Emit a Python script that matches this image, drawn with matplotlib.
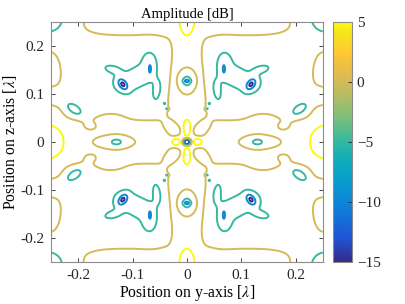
import numpy as np
import matplotlib.pyplot as plt
from matplotlib.colors import LinearSegmentedColormap, Normalize
from matplotlib.cm import ScalarMappable

plt.rcParams['font.family'] = ['Liberation Serif', 'DejaVu Serif']
plt.rcParams['mathtext.fontset'] = 'stix'

# contour levels / colour range [dB]
levels = [-15, -10, -5, 0, 5]
clim = (-15, 5)
tick_vals = [-0.2, -0.1, 0, 0.1, 0.2]

# background level and the four diagonal low regions (one quadrant, mirrored)
base_db = 3.0
box_y = [0.035, 0.230]
box_z = [0.045, 0.222]
box_depth = -6.0
box_soft = 0.008

# local features (first quadrant, mirrored to all four)
# centre null, yellow lobes, neck, column loop, row loop, star, dots,
# side ellipse, edge lobes, corner, boundary tweaks
feat_y = [0.000, 0.000, 0.020, 0.022, 0.032,
          0.000, 0.000, 0.000, 0.135, 0.129,
          0.068, 0.054, 0.115, 0.138, 0.092, 0.118, 0.068,
          0.041, 0.037, 0.208, 0.262, 0.000, 0.262,
          0.140, 0.178, 0.250, 0.032]
feat_z = [0.000, 0.028, 0.000, 0.022, 0.035,
          0.127, 0.127, 0.127, 0.000, 0.000,
          0.158, 0.105, 0.122, 0.152, 0.138, 0.120, 0.152,
          0.080, 0.069, 0.068, 0.000, 0.262, 0.262,
          0.050, 0.032, 0.095, 0.190]
feat_amp = [-30.0, 5.0, 5.0, -6.0, -4.0,
            -5.2, -5.0, -5.0, -5.0, -4.0,
            -3.3, -3.0, -3.3, -3.0, -2.5, -10.0, -5.5,
            -4.5, -5.5, -4.5, 4.5, 5.0, -10.5,
            3.0, -3.0, -4.0, -1.5]
feat_su = [0.0045, 0.006, 0.006, 0.009, 0.010,
           0.014, 0.007, 0.0045, 0.038, 0.012,
           0.016, 0.007, 0.020, 0.012, 0.010, 0.0085, 0.0022,
           0.0025, 0.0022, 0.015, 0.030, 0.011, 0.045,
           0.020, 0.012, 0.015, 0.008]
feat_sv = [0.0045, 0.014, 0.007, 0.009, 0.010,
           0.026, 0.009, 0.0025, 0.013, 0.0085,
           0.030, 0.020, 0.020, 0.006, 0.012, 0.005, 0.009,
           0.0025, 0.0022, 0.0075, 0.030, 0.030, 0.045,
           0.010, 0.008, 0.020, 0.025]
feat_ang = [0, 0, 0, 0, 0,
            0, 0, 0, 0, 0,
            0, 10, 0, 15, 0, 60, 0,
            0, 0, 40, 0, 0, 0,
            0, 0, 0, 0]

# parula colour map (position, colour)
parula_pts = [(0.000, (0.2081, 0.1663, 0.5292)), (0.095, (0.1253, 0.3242, 0.8303)),
              (0.206, (0.0629, 0.4737, 0.8554)), (0.333, (0.0265, 0.6137, 0.8135)),
              (0.429, (0.0590, 0.6838, 0.7254)), (0.492, (0.1801, 0.7177, 0.6424)),
              (0.603, (0.4871, 0.7491, 0.4840)), (0.698, (0.7184, 0.7411, 0.3905)),
              (0.746, (0.8185, 0.7327, 0.3498)), (0.778, (0.8824, 0.7274, 0.3217)),
              (0.873, (0.9955, 0.7861, 0.1967)), (0.952, (0.9589, 0.8949, 0.1132)),
              (1.000, (0.9763, 0.9831, 0.0538))]
parula = LinearSegmentedColormap.from_list('parula', parula_pts)

# build the amplitude map
y = np.linspace(-0.25, 0.25, 701)
z = np.linspace(-0.25, 0.25, 701)
Y, Z = np.meshgrid(y, z)
ay, az = np.abs(Y), np.abs(Z)


def sig(t):
    return 1.0 / (1.0 + np.exp(-t))


box = (sig((ay - box_y[0]) / box_soft) * sig((box_y[1] - ay) / box_soft)
       * sig((az - box_z[0]) / box_soft) * sig((box_z[1] - az) / box_soft))
amp_db = base_db + box_depth * box
for y0, z0, a, su, sv, ang in zip(feat_y, feat_z, feat_amp, feat_su, feat_sv, feat_ang):
    t = np.deg2rad(ang)
    dy, dz = ay - y0, az - z0
    u = dy * np.cos(t) + dz * np.sin(t)
    v = -dy * np.sin(t) + dz * np.cos(t)
    amp_db += a * np.exp(-0.5 * ((u / su) ** 2 + (v / sv) ** 2))

fig = plt.figure(figsize=(4.05, 3.04), dpi=100)
ax = fig.add_axes([0.126, 0.138, 0.671, 0.790])
cax = fig.add_axes([0.822, 0.138, 0.047, 0.790])

ax.contour(Y, Z, amp_db, levels=levels, cmap=parula, vmin=clim[0], vmax=clim[1],
           linewidths=1.4)
ax.set_xlim(-0.25, 0.25)
ax.set_ylim(-0.25, 0.25)
ax.set_xticks(tick_vals)
ax.set_yticks(tick_vals)
ax.set_xticklabels(['-0.2', '-0.1', '0', '0.1', '0.2'])
ax.set_yticklabels(['-0.2', '-0.1', '0', '0.1', '0.2'])
ax.tick_params(direction='in', length=3, width=0.6, top=True, right=True,
               labelsize=11, colors='#262626', pad=5)
for s in ax.spines.values():
    s.set_color('#8c8c8c')
    s.set_linewidth(0.8)
ax.set_title('Amplitude [dB]', fontsize=10.5, pad=3)
ax.set_xlabel('Position on y-axis [$\\lambda$]', fontsize=11.3, labelpad=1)
ax.set_ylabel('Position on z-axis [$\\lambda$]', fontsize=11.3, labelpad=1)

sm = ScalarMappable(norm=Normalize(*clim), cmap=parula)
cb = fig.colorbar(sm, cax=cax, ticks=levels)
cb.ax.tick_params(direction='in', length=3, width=0.6, labelsize=11, colors='#262626')
cb.outline.set_edgecolor('#8c8c8c')
cb.outline.set_linewidth(0.8)

fig.savefig('out.png', dpi=100)
